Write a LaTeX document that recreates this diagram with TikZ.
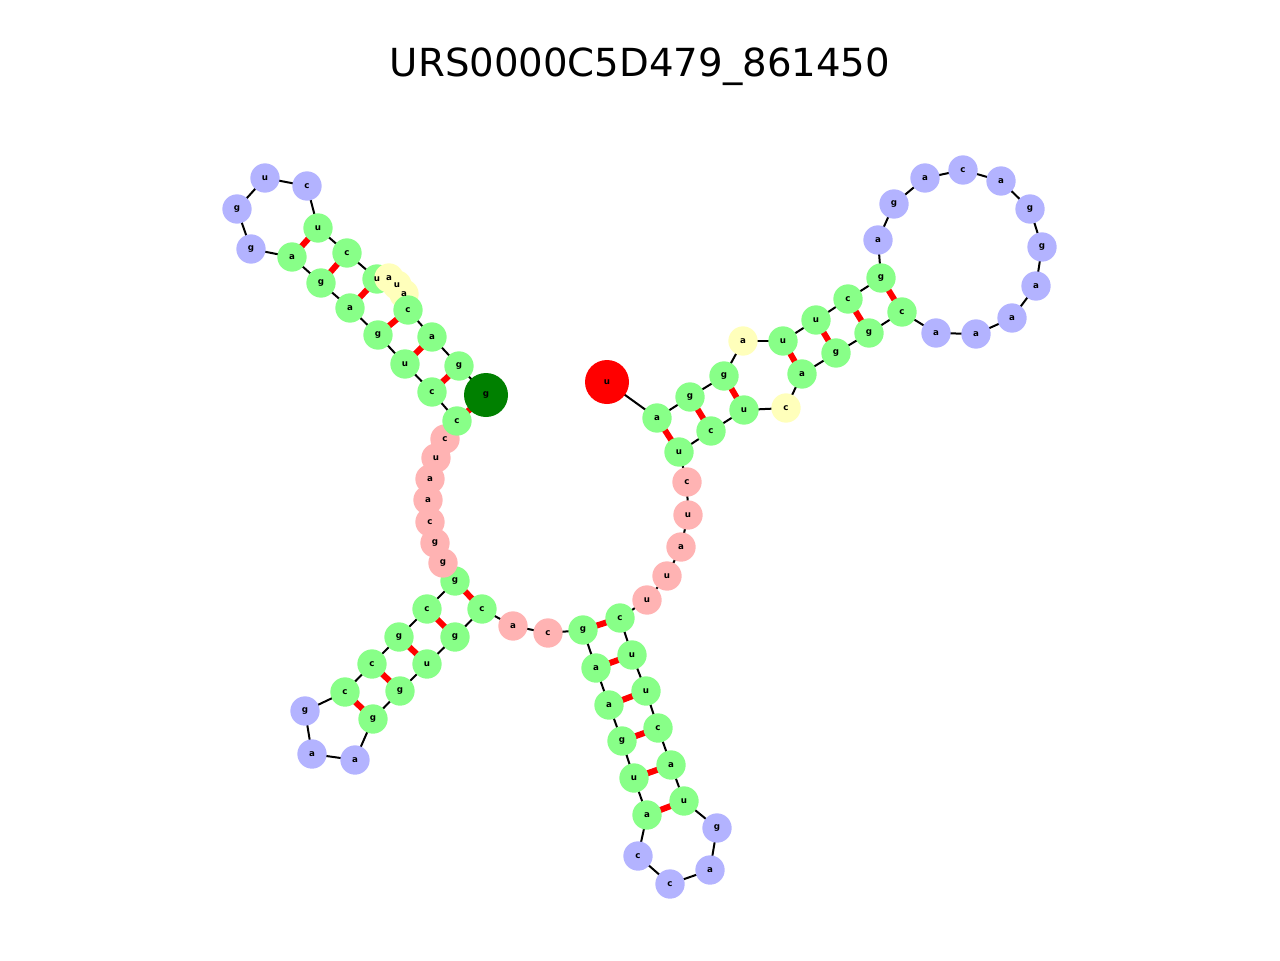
\documentclass[tikz,border=0pt]{standalone}
\usepackage{fontspec}
\setmainfont{DejaVu Sans}
\definecolor{stemgreen}{HTML}{88FF88}
\definecolor{looppink}{HTML}{FFB3B3}
\definecolor{hairblue}{HTML}{B3B3FF}
\definecolor{bulgeyellow}{HTML}{FFFFBB}
\definecolor{endgreen}{HTML}{008000}
\begin{document}
\begin{tikzpicture}[
  x=0.75pt, y=-0.75pt,
  base/.style={circle,inner sep=0pt,minimum size=22pt},
  stem/.style={base,fill=stemgreen},
  multi/.style={base,fill=looppink},
  hair/.style={base,fill=hairblue},
  bulge/.style={base,fill=bulgeyellow},
  fiveend/.style={base,fill=red,minimum size=33pt},
  threeend/.style={base,fill=endgreen,minimum size=33pt},
  backbone/.style={draw=black,line width=1.5pt},
  pairbar/.style={draw=red,line width=4.5pt},
  letter/.style={font=\fontsize{6.5}{6.5}\selectfont\bfseries}
]
  \useasboundingbox (0,0) rectangle (1280,960);
  \node (title) at (640,67) {\fontsize{29}{29}\selectfont URS0000C5D479\_861450};

  % bases
  \foreach \i/\x/\y in {
    1/607/382, 2/657/418, 3/690/397, 4/724/376, 5/743/341, 6/783/341,
    7/816/320, 8/848/299, 9/881/278, 10/878/240, 11/894/204, 12/925/178,
    13/963/170, 14/1001/181, 15/1030/209, 16/1042/247, 17/1036/286,
    18/1012/318, 19/976/334, 20/936/333, 21/902/312, 22/869/333,
    23/836/353, 24/802/374, 25/786/408, 26/744/410, 27/711/431,
    28/679/452, 29/687/482, 30/688/515, 31/681/547, 32/667/576,
    33/647/600, 34/620/618, 35/632/655, 36/646/691, 37/658/728,
    38/671/765, 39/684/801, 40/717/828, 41/710/870, 42/670/884,
    43/638/856, 44/647/815, 45/634/778, 46/622/741, 47/609/705,
    48/596/668, 49/583/630, 50/548/633, 51/513/626, 52/482/609,
    53/455/637, 54/427/664, 55/400/691, 56/373/719, 57/355/760,
    58/312/754, 59/305/711, 60/345/692, 61/372/664, 62/399/637,
    63/427/609, 64/455/581, 65/443/563, 66/435/543, 67/430/522,
    68/428/500, 69/430/479, 70/436/458, 71/445/439, 72/457/421,
    73/432/392, 74/405/364, 75/378/335, 76/350/308, 77/321/283,
    78/292/257, 79/251/249, 80/237/209, 81/265/178, 82/307/186,
    83/318/228, 84/347/253, 85/377/279, 86/389/278, 87/397/285,
    88/404/294, 89/408/310, 90/432/337, 91/459/366, 92/486/395}
    \coordinate (n\i) at (\x,\y);

  % backbone and pairs
  \foreach \i [evaluate=\i as \j using int(\i+1)] in {1,...,91}
    \draw[backbone] (n\i) -- (n\j);
  \foreach \a/\b in {2/28,3/27,4/26,6/24,7/23,8/22,9/21,34/49,35/48,36/47,
    37/46,38/45,39/44,52/64,53/63,54/62,55/61,56/60,72/92,73/91,74/90,
    75/89,76/85,77/84,78/83}
    \draw[pairbar] (n\a) -- (n\b);

  \foreach \i/\s/\t in {1/fiveend/u,2/stem/a,3/stem/g,4/stem/g,5/bulge/a,
    6/stem/u,7/stem/u,8/stem/c,9/stem/g,10/hair/a,11/hair/g,12/hair/a,
    13/hair/c,14/hair/a,15/hair/g,16/hair/g,17/hair/a,18/hair/a,19/hair/a,
    20/hair/a,21/stem/c,22/stem/g,23/stem/g,24/stem/a,25/bulge/c,26/stem/u,
    27/stem/c,28/stem/u,29/multi/c,30/multi/u,31/multi/a,32/multi/u,
    33/multi/u,34/stem/c,35/stem/u,36/stem/u,37/stem/c,38/stem/a,39/stem/u,
    40/hair/g,41/hair/a,42/hair/c,43/hair/c,44/stem/a,45/stem/u,46/stem/g,
    47/stem/a,48/stem/a,49/stem/g,50/multi/c,51/multi/a,52/stem/c,
    53/stem/g,54/stem/u,55/stem/g,56/stem/g,57/hair/a,58/hair/a,59/hair/g,
    60/stem/c,61/stem/c,62/stem/g,63/stem/c,64/stem/g,65/multi/g,
    66/multi/g,67/multi/c,68/multi/a,69/multi/a,70/multi/u,71/multi/c,
    72/stem/c,73/stem/c,74/stem/u,75/stem/g,76/stem/a,77/stem/g,78/stem/a,
    79/hair/g,80/hair/g,81/hair/u,82/hair/c,83/stem/u,84/stem/c,85/stem/u,
    86/bulge/a,87/bulge/u,88/bulge/a,89/stem/c,90/stem/a,91/stem/g,
    92/threeend/g}
    \node[\s] (b\i) at (n\i) {};

  % letters
  \foreach \i/\t in {1/u,2/a,3/g,4/g,5/a,6/u,7/u,8/c,9/g,10/a,11/g,12/a,13/c,
    14/a,15/g,16/g,17/a,18/a,19/a,20/a,21/c,22/g,23/g,24/a,25/c,26/u,27/c,
    28/u,29/c,30/u,31/a,32/u,33/u,34/c,35/u,36/u,37/c,38/a,39/u,40/g,41/a,
    42/c,43/c,44/a,45/u,46/g,47/a,48/a,49/g,50/c,51/a,52/c,53/g,54/u,55/g,
    56/g,57/a,58/a,59/g,60/c,61/c,62/g,63/c,64/g,65/g,66/g,67/c,68/a,69/a,
    70/u,71/c,72/c,73/c,74/u,75/g,76/a,77/g,78/a,79/g,80/g,81/u,82/c,83/u,
    84/c,85/u,86/a,87/u,88/a,89/c,90/a,91/g,92/g}
    \node[letter] at (n\i) {\t};
\end{tikzpicture}
\end{document}
